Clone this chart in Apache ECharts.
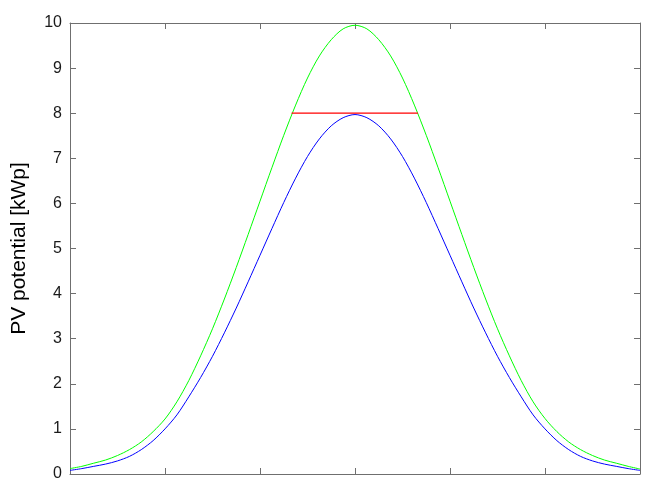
<!DOCTYPE html>
<html>
<head>
<meta charset="utf-8">
<script src="https://cdn.jsdelivr.net/npm/echarts@6/dist/echarts.min.js"></script>
<style>
  html, body { margin: 0; padding: 0; background: #fff; }
  #chart { width: 655px; height: 494px; }
</style>
</head>
<body>
<div id="chart"></div>
<script>
// hours of the day, half-hour steps
const hours = [
  0, 0.5, 1, 1.5, 2, 2.5, 3, 3.5, 4, 4.5, 5, 5.5, 6, 6.5, 7, 7.5, 8, 8.5, 9, 9.5, 10, 10.5, 11, 11.5,
  12, 12.5, 13, 13.5, 14, 14.5, 15, 15.5, 16, 16.5, 17, 17.5, 18, 18.5, 19, 19.5, 20, 20.5, 21, 21.5, 22, 22.5, 23, 23.5, 24
]
// green curve
const potentialGreen = [
  0.12, 0.17, 0.24, 0.31, 0.41, 0.54, 0.71, 0.94, 1.22, 1.60, 2.07, 2.62, 3.22, 3.88, 4.58, 5.31, 6.05, 6.79, 7.51, 8.18, 8.78, 9.27, 9.63, 9.87,
  9.95, 9.87, 9.63, 9.27, 8.78, 8.18, 7.51, 6.79, 6.05, 5.31, 4.58, 3.88, 3.22, 2.62, 2.07, 1.60, 1.23, 0.94, 0.71, 0.54, 0.41, 0.31, 0.24, 0.17, 0.11
]
// blue curve
const potentialBlue = [
  0.08, 0.12, 0.17, 0.22, 0.29, 0.39, 0.54, 0.74, 1.00, 1.31, 1.71, 2.14, 2.61, 3.13, 3.68, 4.26, 4.85, 5.44, 6.02, 6.56, 7.04, 7.43, 7.72, 7.90,
  7.97, 7.90, 7.72, 7.43, 7.04, 6.56, 6.02, 5.44, 4.85, 4.26, 3.68, 3.13, 2.61, 2.14, 1.71, 1.31, 1.00, 0.74, 0.54, 0.39, 0.29, 0.22, 0.17, 0.12, 0.08
]
// red limit line
const limitX = [9.33, 14.65]
const limitY = [8, 8]

const yTicks = [0, 1, 2, 3, 4, 5, 6, 7, 8, 9, 10]

const axisColor = '#6f6f6f'
const chart = echarts.init(document.getElementById('chart'))

const baseX = {
  type: 'value',
  min: 0,
  max: 24,
  interval: 4,
  axisLine: { show: true, onZero: false, lineStyle: { color: axisColor, width: 1 } },
  axisTick: { show: true, inside: true, length: 6, lineStyle: { color: axisColor } },
  axisLabel: { show: false },
  splitLine: { show: false }
}
const baseY = {
  type: 'value',
  min: yTicks[0],
  max: yTicks[yTicks.length - 1],
  interval: 1,
  axisLine: { show: true, onZero: false, lineStyle: { color: axisColor, width: 1 } },
  axisTick: { show: true, inside: true, length: 6, lineStyle: { color: axisColor } },
  splitLine: { show: false }
}

chart.setOption({
  animation: false,
  grid: { left: 70, right: 15, top: 23, bottom: 20, containLabel: false },
  xAxis: [
    Object.assign({}, baseX, { position: 'bottom' }),
    Object.assign({}, baseX, { position: 'top' })
  ],
  yAxis: [
    Object.assign({}, baseY, {
      position: 'left',
      name: 'PV potential [kWp]',
      nameLocation: 'middle',
      nameGap: 40,
      nameTextStyle: { fontFamily: 'Liberation Sans, Arial', fontSize: 21, color: '#000' },
      axisLabel: { show: true, margin: 8, fontFamily: 'Liberation Sans, Arial', fontSize: 16, color: '#1a1a1a' }
    }),
    Object.assign({}, baseY, { position: 'right', axisLabel: { show: false } })
  ],
  series: [
    {
      type: 'line',
      data: hours.map((h, i) => [h, potentialGreen[i]]),
      showSymbol: false,
      smooth: 0.3,
      lineStyle: { color: '#00ff00', width: 1 }
    },
    {
      type: 'line',
      data: hours.map((h, i) => [h, potentialBlue[i]]),
      showSymbol: false,
      smooth: 0.3,
      lineStyle: { color: '#0000ff', width: 1 }
    },
    {
      type: 'line',
      data: limitX.map((x, i) => [x, limitY[i]]),
      showSymbol: false,
      lineStyle: { color: '#ff0000', width: 1.2 }
    }
  ]
})
</script>
</body>
</html>
